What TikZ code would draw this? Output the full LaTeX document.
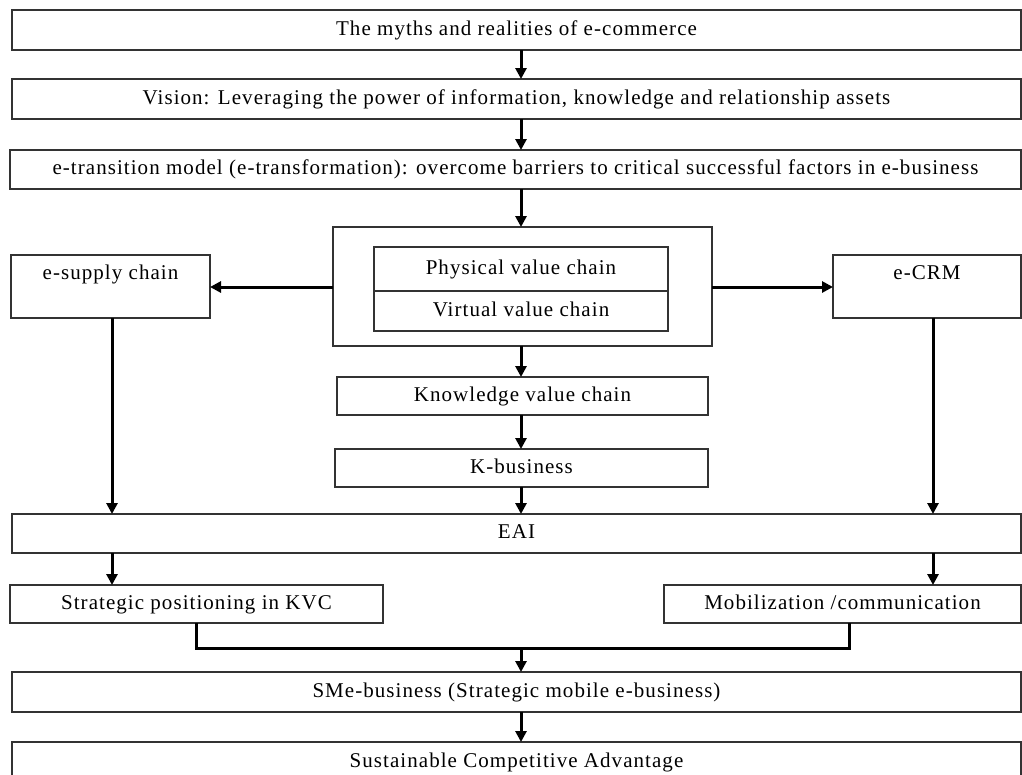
\documentclass[tikz,border=0pt]{standalone}
\usepackage{fontspec}
\setmainfont[LetterSpace=5]{Liberation Serif}
\usepackage{xcolor}
\usepackage{tikz}
\usetikzlibrary{arrows.meta}

\begin{document}
\begin{tikzpicture}[
  x=1pt,
  y=-1pt,
  every node/.style={font=\fontsize{21}{24}\selectfont},
  box/.style={draw=black!80, line width=1.1pt, rectangle, inner sep=0pt,
    outer sep=0pt, anchor=north west, text height=14pt, text depth=4pt},
  topbox/.style={box, text height=14pt, text depth=29pt},
  flow/.style={line width=3pt, -{Triangle[length=11pt,width=11pt]}},
  bar/.style={line width=3pt},
]
\useasboundingbox (0,0) rectangle (1022,774);

% Layout.
\def\xmid{521}  % main column
\def\xleft{112} % e-supply chain column
\def\xright{933} % e-CRM column

\coordinate (axis) at (\xmid,0);
\coordinate (laxis) at (\xleft,0);
\coordinate (raxis) at (\xright,0);
\coordinate (midrow) at (0,287);

% Top rows.
\node[box, minimum width=1009, minimum height=40] (myths) at (12,10)
  {The myths and realities of e-commerce};
\node[box, minimum width=1009, minimum height=40] (vision) at (12,79)
  {Vision: Leveraging the power of information, knowledge and relationship assets};
\node[box, minimum width=1011, minimum height=39] (trans) at (10,150)
  {e-transition model (e-transformation): overcome barriers to critical successful factors in e-business};

% Value chains.
\node[box, minimum width=379, minimum height=119] (outer) at (333,227) {};
\node[box, minimum width=294, minimum height=44] (phys) at (374,247)
  {Physical value chain};
\node[box, minimum width=294, minimum height=40] (virt) at (374,291)
  {Virtual value chain};
\node[topbox, minimum width=199, minimum height=63] (supply) at (11,255)
  {e-supply chain};
\node[topbox, minimum width=188, minimum height=63] (crm) at (833,255)
  {e-CRM};
\node[box, minimum width=371, minimum height=38] (kvc) at (337,377)
  {Knowledge value chain};
\node[box, minimum width=373, minimum height=38] (kbus) at (335,449)
  {K-business};

% Lower rows.
\node[box, minimum width=1009, minimum height=39] (eai) at (12,514) {EAI};
\node[box, minimum width=373, minimum height=38] (strat) at (10,585)
  {Strategic positioning in KVC};
\node[box, minimum width=357, minimum height=38] (mob) at (664,585)
  {Mobilization /communication};
\node[box, minimum width=1009, minimum height=40] (sme) at (12,672)
  {SMe-business (Strategic mobile e-business)};
\node[box, minimum width=1009, minimum height=40] (sust) at (12,742)
  {Sustainable Competitive Advantage};

% Main column arrows.
\draw[flow] (myths.south -| axis) -- (vision.north -| axis);
\draw[flow] (vision.south -| axis) -- (trans.north -| axis);
\draw[flow] (trans.south -| axis) -- (outer.north -| axis);
\draw[flow] (outer.south -| axis) -- (kvc.north -| axis);
\draw[flow] (kvc.south -| axis) -- (kbus.north -| axis);
\draw[flow] (kbus.south -| axis) -- (eai.north -| axis);

% Side branches.
\draw[flow] (outer.west |- midrow) -- (supply.east |- midrow);
\draw[flow] (outer.east |- midrow) -- (crm.west |- midrow);
\draw[flow] (supply.south -| laxis) -- (eai.north -| laxis);
\draw[flow] (crm.south -| raxis) -- (eai.north -| raxis);
\draw[flow] (eai.south -| laxis) -- (strat.north -| laxis);
\draw[flow] (eai.south -| raxis) -- (mob.north -| raxis);

% Merge into SMe-business.
\coordinate (join) at (\xmid,648);
\coordinate (sjoin) at (196,0);
\coordinate (mjoin) at (849,0);
\draw[bar] (strat.south -| sjoin) |- (join) -| (mob.south -| mjoin);
\draw[flow] (join) -- (sme.north -| axis);
\draw[flow] (sme.south -| axis) -- (sust.north -| axis);

\end{tikzpicture}
\end{document}
